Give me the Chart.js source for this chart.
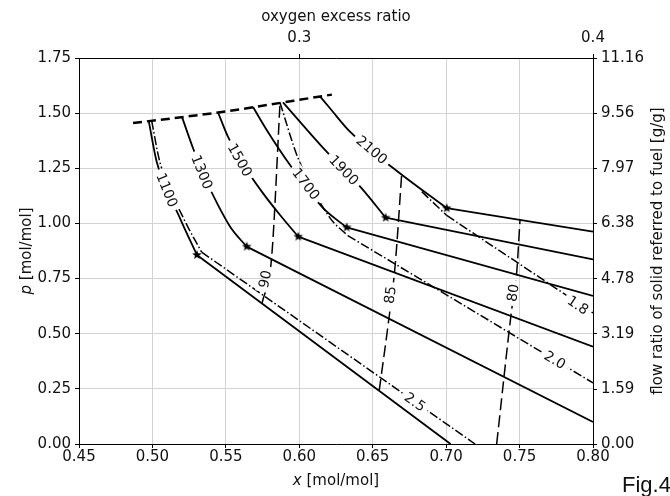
<!DOCTYPE html>
<html><head><meta charset="utf-8">
<script src="https://cdn.jsdelivr.net/npm/chart.js@4.4.1/dist/chart.umd.min.js"></script>
<style>
html,body{margin:0;padding:0;background:#fff;overflow:hidden}
#wrap{position:relative;width:670px;height:496px}
#fig{position:absolute;left:622px;top:472px;font:22px "Liberation Sans",Arial,sans-serif;color:#111;white-space:nowrap}
</style></head>
<body><div id="wrap"><canvas id="c" width="670" height="496"></canvas><div id="fig">Fig.4</div></div>
<script>
// ---- axes ----
const xRange = [0.45, 0.80];
const xTicks = [0.45, 0.50, 0.55, 0.60, 0.65, 0.70, 0.75, 0.80];
const xTickLabels = ['0.45','0.50','0.55','0.60','0.65','0.70','0.75','0.80'];
const yRange = [0, 1.75];
const yTicks = [0, 0.25, 0.50, 0.75, 1.00, 1.25, 1.50, 1.75];
const yTickLabels = ['0.00','0.25','0.50','0.75','1.00','1.25','1.50','1.75'];
const flowRange = [0, 11.16];
const flowTicks = [0, 1.59, 3.19, 4.78, 6.38, 7.97, 9.56, 11.16];
const flowTickLabels = ['0.00','1.59','3.19','4.78','6.38','7.97','9.56','11.16'];
const oxyRange = [0.225, 0.40];
const oxyTicks = [0.3, 0.4];
const oxyTickLabels = ['0.3','0.4'];
const xTitle = ['x', ' [mol/mol]'];
const yTitle = ['p', ' [mol/mol]'];
const flowTitle = 'flow ratio of solid referred to fuel [g/g]';
const oxyTitle = 'oxygen excess ratio';

// ---- temperature lines (solid): curve ... kink, then straight to end ----
const t1100 = [[0.4975,1.464],[0.5029,1.280],[0.5188,1.023],[0.5303,0.857],[0.703,0.0]];
const t1300 = [[0.5201,1.483],[0.5276,1.342],[0.5358,1.206],[0.5446,1.084],[0.5535,0.979],[0.5642,0.895],[0.80,0.100]];
const t1500 = [[0.5447,1.503],[0.5515,1.392],[0.5630,1.256],[0.5746,1.143],[0.5869,1.038],[0.5993,0.940],[0.80,0.441]];
const t1700 = [[0.5685,1.528],[0.5778,1.424],[0.5937,1.265],[0.6161,1.070],[0.6323,0.982],[0.80,0.671]];
const t1900 = [[0.5889,1.549],[0.6175,1.333],[0.6425,1.159],[0.6588,1.026],[0.80,0.837]];
const t2100 = [[0.6141,1.5755],[0.6209,1.522],[0.6345,1.416],[0.6641,1.250],[0.7004,1.069],[0.80,0.963]];
const tempLines = [t1100, t1300, t1500, t1700, t1900, t2100];
const tempNames = ['1100','1300','1500','1700','1900','2100'];

// ---- flow ratio lines (dash-dot) ----
const f18 = [[0.6834,1.144],[0.7004,1.036],[0.80,0.594]];
const f20 = [[0.5869,1.547],[0.5991,1.297],[0.6209,1.025],[0.6330,0.945],[0.80,0.277]];
const f25 = [[0.4995,1.465],[0.5050,1.280],[0.5212,1.023],[0.5335,0.870],[0.7197,0.0]];
const flowLines = [f18, f20, f25];
const flowNames = ['1.8','2.0','2.5'];

// ---- conversion lines (long dash) ----
const c90 = [[0.5746,0.637],[0.5812,0.849],[0.5869,1.547]];
const c85 = [[0.6544,0.241],[0.6606,0.547],[0.6652,0.804],[0.6697,1.220]];
const c80 = [[0.7344,0.0],[0.7446,0.608],[0.7480,0.774],[0.7503,1.016]];
const convLines = [c90, c85, c80];
const convNames = ['90','85','80'];

// ---- upper boundary (thick dash) ----
const topBound = [[0.4868,1.455],[0.5447,1.503],[0.6222,1.584]];

// ---- inline label anchors (data coords) ----
const tempLabelAt = [[0.5099,1.152],[0.5338,1.233],[0.5596,1.288],[0.6046,1.179],[0.6304,1.242],[0.6495,1.333]];
const flowLabelAt = [[0.7898,0.630],[0.7741,0.381],[0.6788,0.191]];
const convLabelAt = [[0.5767,0.748],[0.6618,0.676],[0.7455,0.685]];

// ---------------------------------------------------------------
const P = a => a.map(([x,y]) => ({x, y}));
const INK = '#111';
const FAM = 'DejaVu Sans';

function makeStar(r){
  const c = document.createElement('canvas');
  c.width = c.height = Math.ceil(2*r+2);
  const g = c.getContext('2d');
  const m = c.width/2;
  g.beginPath();
  for (let i=0;i<10;i++){
    const a = -Math.PI/2 + i*Math.PI/5;
    const rr = i%2 ? r*0.42 : r;
    g.lineTo(m + rr*Math.cos(a), m + rr*Math.sin(a));
  }
  g.closePath(); g.fillStyle = '#000'; g.fill();
  return c;
}
const starImg = makeStar(5);

const datasets = [];
datasets.push({data: P(tempLines.map(l => l[l.length-2])), showLine:false, pointStyle: starImg, pointRadius:4, pointHoverRadius:4, borderColor:'#000', backgroundColor:'#000'});
const lineBase = {showLine:true, pointRadius:0, pointHoverRadius:0, fill:false, borderColor:'#000', borderCapStyle:'butt'};
const curved = {cubicInterpolationMode:'monotone'};
tempLines.forEach(l => {
  datasets.push({...lineBase, ...curved, data:P(l.slice(0,-1)), borderWidth:1.8});
  datasets.push({...lineBase, data:P(l.slice(-2)), borderWidth:1.8, tension:0});
});
flowLines.forEach(l => {
  datasets.push({...lineBase, ...curved, data:P(l.slice(0,-1)), borderWidth:1.5, borderDash:[9,2.5,1.5,2.5]});
  datasets.push({...lineBase, data:P(l.slice(-2)), borderWidth:1.5, borderDash:[9,2.5,1.5,2.5], tension:0});
});
convLines.forEach(l => {
  datasets.push({...lineBase, ...curved, data:P(l), borderWidth:1.5, borderDash:[12,5]});
});
datasets.push({...lineBase, ...curved, data:P(topBound), borderWidth:2.5, borderDash:[9,5]});

// inline labels
const inlineLabels = [];
tempNames.forEach((t,i) => inlineLabels.push({text:t, line:tempLines[i], at:tempLabelAt[i]}));
flowNames.forEach((t,i) => inlineLabels.push({text:t, line:flowLines[i], at:flowLabelAt[i]}));
convNames.forEach((t,i) => inlineLabels.push({text:t, line:convLines[i], at:convLabelAt[i]}));
const LBL_FONT = '14px "DejaVu Sans"';

function labelGeom(chart){
  const xs = chart.scales.x, ys = chart.scales.y, ctx = chart.ctx;
  ctx.save(); ctx.font = LBL_FONT;
  const out = inlineLabels.map(L => {
    const px = xs.getPixelForValue(L.at[0]), py = ys.getPixelForValue(L.at[1]);
    const pts = L.line.map(([x,y]) => [xs.getPixelForValue(x), ys.getPixelForValue(y)]);
    let best = null;
    for (let i=0;i<pts.length-1;i++){
      const [ax,ay] = pts[i], [bx,by] = pts[i+1];
      const dx=bx-ax, dy=by-ay, L2=dx*dx+dy*dy;
      let t = ((px-ax)*dx+(py-ay)*dy)/L2; t=Math.max(0,Math.min(1,t));
      const qx=ax+t*dx, qy=ay+t*dy, d=(qx-px)**2+(qy-py)**2;
      if(!best || d<best.d) best={d, qx, qy, ang:Math.atan2(dy,dx)};
    }
    let ang = best.ang;
    if (ang > Math.PI/2) ang -= Math.PI;
    if (ang < -Math.PI/2) ang += Math.PI;
    const w = ctx.measureText(L.text).width;
    return {text:L.text, x:px, y:py, ang, hw:w/2+4, hh:7.5};
  });
  ctx.restore();
  return out;
}

const labelPlugin = {
  id:'inlineLabels',
  beforeDatasetsDraw(chart){
    const ctx = chart.ctx;
    chart.$lbl = labelGeom(chart);
    ctx.save();
    ctx.beginPath();
    ctx.rect(0,0,chart.width,chart.height);
    chart.$lbl.forEach(g => {
      const c=Math.cos(g.ang), s=Math.sin(g.ang);
      const corners = [[-g.hw,-g.hh],[g.hw,-g.hh],[g.hw,g.hh],[-g.hw,g.hh]].map(([u,v]) => [g.x+u*c-v*s, g.y+u*s+v*c]);
      ctx.moveTo(corners[0][0],corners[0][1]);
      for(let k=1;k<4;k++) ctx.lineTo(corners[k][0],corners[k][1]);
      ctx.closePath();
    });
    ctx.clip('evenodd');
  },
  afterDatasetsDraw(chart){
    const ctx = chart.ctx, a = chart.chartArea;
    ctx.restore();
    ctx.save();
    ctx.beginPath(); ctx.rect(a.left, a.top, a.right-a.left, a.bottom-a.top); ctx.clip();
    ctx.font = LBL_FONT; ctx.fillStyle = INK; ctx.textAlign='center'; ctx.textBaseline='middle';
    chart.$lbl.forEach(g => {
      ctx.save(); ctx.translate(g.x, g.y); ctx.rotate(g.ang); ctx.fillText(g.text, 0, 1); ctx.restore();
    });
    ctx.restore();
  }
};

function drawParts(ctx, parts, cx, cy, rot){
  const fonts = parts.map(p => `${p[1]} 15px "${FAM}"`);
  const widths = parts.map((p,i) => { ctx.font = fonts[i]; return ctx.measureText(p[0]).width; });
  const total = widths.reduce((s,w) => s+w, 0);
  ctx.save(); ctx.translate(cx, cy); ctx.rotate(rot);
  ctx.textAlign='left'; ctx.textBaseline='middle'; ctx.fillStyle = INK;
  let x = -total/2;
  parts.forEach((p,i) => { ctx.font = fonts[i]; ctx.fillText(p[0], x, 0); x += widths[i]; });
  ctx.restore();
}
const titlePlugin = {
  id:'titles',
  afterDraw(chart){
    const ctx = chart.ctx, a = chart.chartArea;
    drawParts(ctx, [[xTitle[0],'italic'],[xTitle[1],'normal']], (a.left+a.right)/2, 481, 0);
    drawParts(ctx, [[yTitle[0],'italic'],[yTitle[1],'normal']], 27, (a.top+a.bottom)/2, -Math.PI/2);
    drawParts(ctx, [[flowTitle,'normal']], 658, (a.top+a.bottom)/2, -Math.PI/2);
  }
};

const tickFont = {family:FAM, size:15};
const mkTicks = (vals) => (s => { s.ticks = vals.map(v => ({value:v})); });
const border = {color:'#000', width:1};

new Chart(document.getElementById('c'), {
  type:'scatter',
  data:{datasets},
  options:{
    responsive:false, animation:false, devicePixelRatio:1,
    layout:{padding:0},
    plugins:{legend:{display:false}, tooltip:{enabled:false}},
    events:[],
    scales:{
      x:{type:'linear', position:'bottom', min:xRange[0], max:xRange[1],
         afterBuildTicks:mkTicks(xTicks), afterFit:s => { s.height = 52; },
         ticks:{callback:(v,i) => xTickLabels[i], font:tickFont, color:INK, padding:0, maxRotation:0, autoSkip:false},
         grid:{color:'#d3d3d3', lineWidth:1, tickColor:'#000', tickLength:4},
         border},
      x2:{type:'linear', position:'top', min:oxyRange[0], max:oxyRange[1],
         afterBuildTicks:mkTicks(oxyTicks), afterFit:s => { s.height = 58; },
         ticks:{callback:(v,i) => oxyTickLabels[i], font:tickFont, color:INK, padding:7, maxRotation:0, autoSkip:false},
         grid:{drawOnChartArea:false, tickColor:'#000', tickLength:4},
         border,
         title:{display:true, text:oxyTitle, font:tickFont, color:INK, padding:{top:8, bottom:0}}},
      y:{type:'linear', position:'left', min:yRange[0], max:yRange[1],
         afterBuildTicks:mkTicks(yTicks), afterFit:s => { s.width = 79; },
         ticks:{callback:(v,i) => yTickLabels[i], font:tickFont, color:INK, padding:4, autoSkip:false},
         grid:{color:'#d3d3d3', lineWidth:1, tickColor:'#000', tickLength:4},
         border},
      y2:{type:'linear', position:'right', min:flowRange[0], max:flowRange[1],
         afterBuildTicks:mkTicks(flowTicks), afterFit:s => { s.width = 77; },
         ticks:{callback:(v,i) => flowTickLabels[i], font:tickFont, color:INK, padding:4, autoSkip:false},
         grid:{drawOnChartArea:false, tickColor:'#000', tickLength:4},
         border}
    }
  },
  plugins:[labelPlugin, titlePlugin]
});
</script>
</body></html>
